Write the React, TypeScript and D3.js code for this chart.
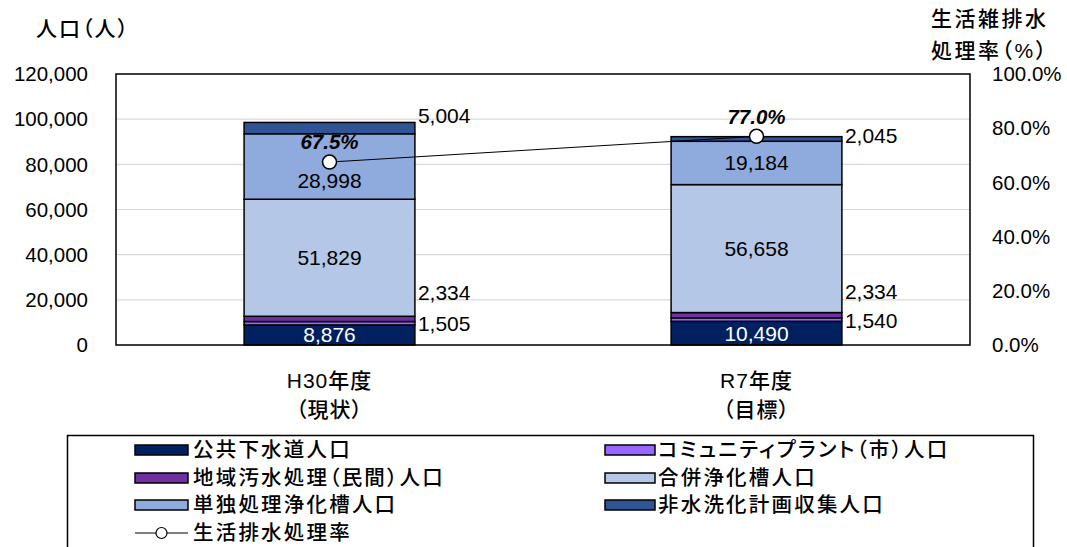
import React from "react";
import * as d3 from "d3";

const categories = ["H30年度\n（現状）", "R7年度\n（目標）"];
const seriesNames = [
  "公共下水道人口",
  "コミュニティプラント（市）人口",
  "地域汚水処理（民間）人口",
  "合併浄化槽人口",
  "単独処理浄化槽人口",
  "非水洗化計画収集人口",
];
const seriesColors = ["#002060", "#9966FF", "#7030A0", "#B4C7E7", "#8FAADC", "#2F5597"];
const koukyou = [8876, 10490];
const community = [1505, 1540];
const chiiki = [2334, 2334];
const gappei = [51829, 56658];
const tandoku = [28998, 19184];
const hisuisen = [5004, 2045];
const rateName = "生活排水処理率";
const rate = [67.5, 77.0];
const leftTicks = [0, 20000, 40000, 60000, 80000, 100000, 120000];
const rightTicks = [0, 20, 40, 60, 80, 100];

const NUM = "'Liberation Sans', Arial, sans-serif";
const JP = "'Liberation Sans', 'Noto Sans CJK JP', sans-serif";

export default function App() {
  const W = 1067, H = 547;
  const plot = { left: 116, right: 970, top: 74, bottom: 345 };
  const x = d3.scaleBand<string>().domain(categories).range([plot.left, plot.right]).paddingInner(0.6).paddingOuter(0.3);
  const y = d3.scaleLinear().domain([0, 120000]).range([plot.bottom, plot.top]);
  const yR = d3.scaleLinear().domain([0, 100]).range([plot.bottom, plot.top]);
  const fmt = d3.format(",");
  const pct = (v: number) => d3.format(".1f")(v) + "%";

  const seriesData = [koukyou, community, chiiki, gappei, tandoku, hisuisen];
  const rows = categories.map((c, i) => {
    const o: any = { cat: c };
    seriesNames.forEach((s, k) => (o[s] = seriesData[k][i]));
    return o;
  });
  const stacked = d3.stack<any>().keys(seriesNames)(rows);
  const bw = x.bandwidth();
  const cx = (i: number) => (x(categories[i]) as number) + bw / 2;

  const line = d3.line<number>().x((_, i) => cx(i)).y((d) => yR(d));

  const labelMode = ["insideWhite", "right", "right", "inside", "inside", "right"];
  const labelDy: number[][] = [
    [0, 0],
    [0, 1],
    [-26, -24],
    [0, 0],
    [14, 0],
    [-12, -3],
  ];

  const legendLeft = [0, 2, 4];
  const legendRight = [1, 3, 5];
  const rowY = [450, 478, 505];
  const jpStyle: React.CSSProperties = { fontFeatureSettings: '"palt"' };

  return (
    <svg width={W} height={H} style={{ position: "absolute", left: 0, top: 0, background: "#fff" }}>
      {leftTicks.slice(1, -1).map((t) => (
        <line key={t} x1={plot.left} x2={plot.right} y1={y(t)} y2={y(t)} stroke="#d9d9d9" strokeWidth={1.2} />
      ))}
      {stacked.map((s, k) =>
        s.map((d, i) => (
          <rect
            key={k + "-" + i}
            x={x(categories[i])}
            y={y(d[1])}
            width={bw}
            height={y(d[0]) - y(d[1])}
            fill={seriesColors[k]}
            stroke="#000"
            strokeWidth={1.5}
          />
        ))
      )}
      <rect x={plot.left} y={plot.top} width={plot.right - plot.left} height={plot.bottom - plot.top} fill="none" stroke="#000" strokeWidth={1.5} />
      {stacked.map((s, k) =>
        s.map((d, i) => {
          const mid = (y(d[0]) + y(d[1])) / 2;
          const mode = labelMode[k];
          const v = seriesData[k][i];
          if (mode === "right") {
            return (
              <text key={"l" + k + i} x={(x(categories[i]) as number) + bw + 3} y={mid + labelDy[k][i]} dy="0.35em" fontFamily={NUM} fontSize={21} fill="#000">
                {fmt(v)}
              </text>
            );
          }
          return (
            <text key={"l" + k + i} x={cx(i)} y={mid + labelDy[k][i]} dy="0.35em" textAnchor="middle" fontFamily={NUM} fontSize={21} fill={mode === "insideWhite" ? "#fff" : "#000"}>
              {fmt(v)}
            </text>
          );
        })
      )}
      <path d={line(rate) || ""} fill="none" stroke="#000" strokeWidth={1} />
      {rate.map((r, i) => (
        <g key={"r" + i}>
          <circle cx={cx(i)} cy={yR(r)} r={7} fill="#fff" stroke="#000" strokeWidth={1.5} />
          <text x={cx(i)} y={yR(r) - 20} dy="0.35em" textAnchor="middle" fontFamily={NUM} fontSize={20.5} fontWeight="bold" fontStyle="italic">
            {pct(r)}
          </text>
        </g>
      ))}
      {leftTicks.map((t) => (
        <text key={"yl" + t} x={88} y={y(t)} dy="0.35em" textAnchor="end" fontFamily={NUM} fontSize={20.5}>
          {fmt(t)}
        </text>
      ))}
      {rightTicks.map((t) => (
        <text key={"yr" + t} x={992} y={yR(t)} dy="0.35em" fontFamily={NUM} fontSize={20.5}>
          {pct(t)}
        </text>
      ))}
      {categories.map((c, i) =>
        c.split("\n").map((ln, j) => (
          <text key={"c" + i + j} x={cx(i)} y={381 + j * 29} dy="0.35em" textAnchor="middle" fontFamily={JP} fontSize={21} fontWeight={500} style={jpStyle} letterSpacing={1}>
            {ln}
          </text>
        ))
      )}
      <text x={36} y={29} dy="0.35em" fontFamily={JP} fontSize={21} fontWeight={500} style={jpStyle} letterSpacing={2}>
        人口（人）
      </text>
      <text x={931} y={19} dy="0.35em" fontFamily={JP} fontSize={21} fontWeight={500} style={jpStyle} letterSpacing={2.5}>
        生活雑排水
      </text>
      <text x={931} y={51} dy="0.35em" fontFamily={JP} fontSize={21} fontWeight={500} style={jpStyle} letterSpacing={2.5}>
        処理率（%）
      </text>
      <rect x={67.5} y={435.5} width={966} height={130} fill="#fff" stroke="#000" strokeWidth={1.5} />
      {legendLeft.map((k, r) => (
        <g key={"ll" + k}>
          <rect x={135} y={rowY[r] - 5} width={53} height={10} fill={seriesColors[k]} stroke="#000" strokeWidth={1.5} />
          <text x={193} y={rowY[r]} dy="0.35em" fontFamily={JP} fontSize={20.5} fontWeight={500} style={jpStyle} letterSpacing={2.2}>
            {seriesNames[k]}
          </text>
        </g>
      ))}
      {legendRight.map((k, r) => (
        <g key={"lr" + k}>
          <rect x={605} y={rowY[r] - 5} width={50} height={10} fill={seriesColors[k]} stroke="#000" strokeWidth={1.5} />
          <text x={658} y={rowY[r]} dy="0.35em" fontFamily={JP} fontSize={20.5} fontWeight={500} style={jpStyle} letterSpacing={2.2}>
            {seriesNames[k]}
          </text>
        </g>
      ))}
      <g>
        <line x1={135} x2={188} y1={533} y2={533} stroke="#000" strokeWidth={1} />
        <circle cx={161.5} cy={533} r={5.5} fill="#fff" stroke="#000" strokeWidth={1.2} />
        <text x={193} y={533} dy="0.35em" fontFamily={JP} fontSize={20.5} fontWeight={500} style={jpStyle} letterSpacing={2.2}>
          {rateName}
        </text>
      </g>
    </svg>
  );
}
